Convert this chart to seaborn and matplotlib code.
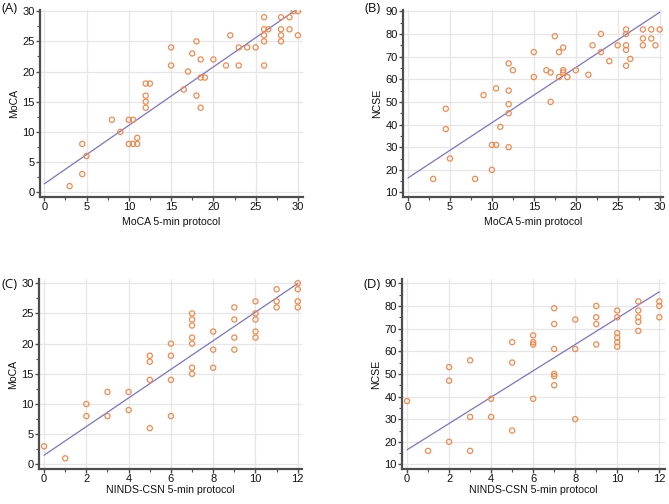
import numpy as np
import matplotlib
matplotlib.use('Agg')
import matplotlib.pyplot as plt
import seaborn as sns
from matplotlib.ticker import MultipleLocator

# (A) MoCA 5-min protocol vs MoCA
moca5_a = [3, 4.5, 4.5, 5, 8, 9, 10, 10.5, 10, 10.5, 11, 11, 12, 12.5, 12, 12, 12,
           15, 15, 16.5, 17, 17.5, 18, 18, 18.5, 18.5, 19, 18.5, 20, 21.5, 22, 23, 23,
           24, 25, 26, 26, 26, 26, 26, 26.5, 28, 28, 28, 28, 29, 29, 29.5, 30, 30]
moca_a = [1, 8, 3, 6, 12, 10, 12, 12, 8, 8, 8, 9, 18, 18, 16, 15, 14,
          24, 21, 17, 20, 23, 25, 16, 22, 19, 19, 14, 22, 21, 26, 24, 21,
          24, 24, 29, 27, 26, 25, 21, 27, 29, 27, 26, 25, 29, 27, 30, 30, 26]

# (B) MoCA 5-min protocol vs NCSE
moca5_b = [3, 4.5, 4.5, 5, 8, 9, 10, 10.5, 10, 10.5, 11, 12, 12, 12, 12, 12, 12.5,
           15, 15, 16.5, 17, 17, 17.5, 18, 18, 18.5, 18.5, 18.5, 19, 20, 21.5, 22,
           23, 23, 24, 25, 26, 26, 26, 26, 26, 26.5, 28, 28, 28, 29, 29, 29.5, 30]
ncse_b = [16, 47, 38, 25, 16, 53, 31, 31, 20, 56, 39, 67, 55, 49, 45, 30, 64,
          72, 61, 64, 63, 50, 79, 72, 61, 74, 64, 63, 61, 64, 62, 75,
          80, 72, 68, 75, 82, 80, 75, 73, 66, 69, 82, 78, 75, 82, 78, 75, 82]

# (C) NINDS-CSN 5-min protocol vs MoCA
ninds_c = [0, 1, 2, 2, 3, 3, 4, 4, 5, 5, 5, 5, 6, 6, 6, 6, 7, 7, 7, 7, 7, 7, 7,
           8, 8, 8, 9, 9, 9, 9, 10, 10, 10, 10, 10, 11, 11, 11, 12, 12, 12, 12]
moca_c = [3, 1, 10, 8, 12, 8, 12, 9, 18, 17, 14, 6, 20, 18, 14, 8, 25, 24, 23, 21, 20, 16, 15,
          22, 19, 16, 26, 24, 21, 19, 27, 25, 24, 22, 21, 29, 27, 26, 30, 29, 27, 26]

# (D) NINDS-CSN 5-min protocol vs NCSE
ninds_d = [0, 1, 2, 2, 2, 3, 3, 3, 4, 4, 5, 5, 5, 6, 6, 6, 6, 7, 7, 7, 7, 7, 7,
           8, 8, 8, 9, 9, 9, 9, 10, 10, 10, 10, 10, 10, 11, 11, 11, 11, 11, 12, 12, 12]
ncse_d = [38, 16, 53, 47, 20, 56, 31, 16, 39, 31, 64, 55, 25, 67, 64, 63, 39, 79, 72, 61, 50, 49, 45,
          74, 61, 30, 80, 75, 72, 63, 78, 75, 68, 66, 64, 62, 82, 78, 75, 73, 69, 82, 80, 75]

sns.set_theme(style='white')
plt.rcParams['font.family'] = ['Liberation Sans', 'DejaVu Sans']

ORANGE = '#f28a4e'
LINE_C = '#7b73c6'
SPINE = '#4d4d4d'

W, H = 669, 504
fig = plt.figure(figsize=(W / 100, H / 100), dpi=100)


def rma_fit(x, y):
    # reduced major axis (geometric mean) regression
    x = np.asarray(x, float)
    y = np.asarray(y, float)
    r = np.corrcoef(x, y)[0, 1]
    b = np.sign(r) * y.std() / x.std()
    return b, y.mean() - b * x.mean()


def add_ax(left, top, right, bottom):
    return fig.add_axes([left / W, 1 - bottom / H, (right - left) / W, (bottom - top) / H])


panels = [
    dict(tag='(A)', x=moca5_a, y=moca_a, box=(40, 10, 303, 197), xlim=(-0.5, 30.6), ylim=(-0.8, 30.2),
         xstep=5, ystep=5, xmax=30, xlab='MoCA 5-min protocol', ylab='MoCA', tagxy=(2, 9), xpad=3.5),
    dict(tag='(B)', x=moca5_b, y=ncse_b, box=(403, 10, 663, 197), xlim=(-0.6, 30.4), ylim=(8, 90.6),
         xstep=5, ystep=10, xmax=30, xlab='MoCA 5-min protocol', ylab='NCSE', tagxy=(365, 9), xpad=3.5),
    dict(tag='(C)', x=ninds_c, y=moca_c, box=(39, 279, 302, 469), xlim=(-0.24, 12.2), ylim=(-0.76, 30.7),
         xstep=2, ystep=5, xmax=12, xlab='NINDS-CSN 5-min protocol', ylab='MoCA', tagxy=(2, 284), xpad=0.2),
    dict(tag='(D)', x=ninds_d, y=ncse_d, box=(402, 279, 665, 469), xlim=(-0.24, 12.27), ylim=(8, 91.9),
         xstep=2, ystep=10, xmax=12, xlab='NINDS-CSN 5-min protocol', ylab='NCSE', tagxy=(364, 284), xpad=0.2),
]

for p in panels:
    ax = add_ax(*p['box'])
    ax.grid(True, color='#e6e6e6', linewidth=0.9, zorder=0)
    ax.set_axisbelow(True)

    slope, intercept = rma_fit(p['x'], p['y'])
    xs = np.array([0, p['xmax']])
    ax.plot(xs, intercept + slope * xs, color=LINE_C, linewidth=0.9, zorder=2)

    sns.scatterplot(x=p['x'], y=p['y'], ax=ax, marker='o', s=14,
                    facecolor='none', edgecolor=ORANGE, linewidth=0.9, zorder=3)

    ax.set_xlim(p['xlim'])
    ax.set_ylim(p['ylim'])
    ax.xaxis.set_major_locator(MultipleLocator(p['xstep']))
    ax.yaxis.set_major_locator(MultipleLocator(p['ystep']))
    ax.xaxis.set_minor_locator(MultipleLocator(p['xstep'] / 2))
    ax.yaxis.set_minor_locator(MultipleLocator(p['ystep'] / 2))

    for side in ['top', 'right']:
        ax.spines[side].set_visible(False)
    for side in ['left', 'bottom']:
        ax.spines[side].set_color(SPINE)
        ax.spines[side].set_linewidth(1.6)

    ax.tick_params(which='major', direction='out', length=3, width=1, color=SPINE,
                   labelsize=8, labelcolor='#111111', pad=0.8, left=True, bottom=True)
    ax.tick_params(which='minor', direction='out', length=2, width=0.8, color=SPINE,
                   left=True, bottom=True)

    ax.set_xlabel(p['xlab'], fontsize=7.6, color='#111111', labelpad=p['xpad'])
    ax.set_ylabel(p['ylab'], fontsize=7.6, color='#111111', labelpad=2.5)

    fig.text(p['tagxy'][0] / W, 1 - p['tagxy'][1] / H, p['tag'], fontsize=9.5,
             family=['Open Sans', 'DejaVu Sans'], va='center', ha='left', color='#111111')

fig.savefig('out.png', dpi=100)
